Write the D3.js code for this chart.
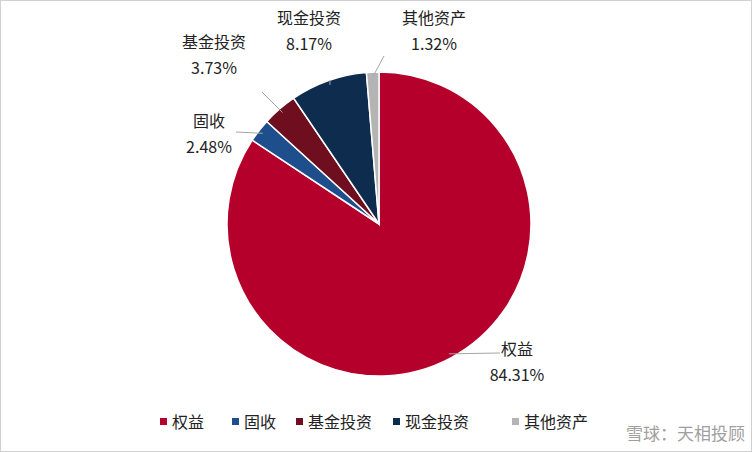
<!DOCTYPE html><html><head><meta charset="utf-8"><script src="https://cdn.jsdelivr.net/npm/d3@7"></script>
<style>body{margin:0;background:#fff}text{font-family:"Noto Sans CJK SC","Noto Sans",sans-serif}</style></head><body><svg id="c" width="752" height="452"></svg><script>
const categories=["权益","固收","基金投资","现金投资","其他资产"];
const values=[84.31,2.48,3.73,8.17,1.32];
const colors=["#B5002B","#1F4E8C","#6E0E1E","#0E2C4E","#B4B4B4"];
const labelPos=[[517,355],[209,127],[214,48],[309,24],[434,24]];
const lineEnd=[[500,353],[236,132],[262,92],[330,80],[384,56]];
const svg=d3.select("#c");
svg.append("rect").attr("x",0.5).attr("y",0.5).attr("width",751).attr("height",451).attr("fill","#fff").attr("stroke","#d0d0d0");
const cx=379,cy=224,r=152;
const pie=d3.pie().sort(null).value(d=>d)(values);
const arc=d3.arc().innerRadius(0).outerRadius(r);
const g=svg.append("g").attr("transform",`translate(${cx},${cy})`);
g.selectAll("path").data(pie).join("path").attr("d",arc).attr("fill",(d,i)=>colors[i]).attr("stroke","#fff").attr("stroke-width",1.5);
pie.forEach((d,i)=>{
 const a=(d.startAngle+d.endAngle)/2;
 const p=[cx+Math.sin(a)*r*0.97,cy-Math.cos(a)*r*0.97];
 svg.append("polyline").attr("points",[p,lineEnd[i]].map(q=>q.join(",")).join(" ")).attr("fill","none").attr("stroke","#a6a6a6");
 const [lx,ly]=labelPos[i];
 const tx=svg.append("text").attr("x",lx).attr("y",ly).attr("font-size",16).attr("fill","#222").attr("text-anchor","middle");
 tx.append("tspan").attr("x",lx).text(categories[i]);
 tx.append("tspan").attr("x",lx).attr("dy",26).text(values[i].toFixed(2)+"%");
});
const lg=svg.append("g");
const lx0=[160,232,296,393,512];
categories.forEach((c,i)=>{
 lg.append("rect").attr("x",lx0[i]).attr("y",418).attr("width",7).attr("height",7).attr("fill",colors[i]);
 lg.append("text").attr("x",lx0[i]+12).attr("y",428).attr("font-size",16).attr("fill","#222").text(c);
});
svg.append("text").attr("x",745).attr("y",440).attr("text-anchor","end").attr("font-size",17).attr("fill","#888").attr("opacity",0.8).text("雪球：天相投顾");
</script></body></html>
